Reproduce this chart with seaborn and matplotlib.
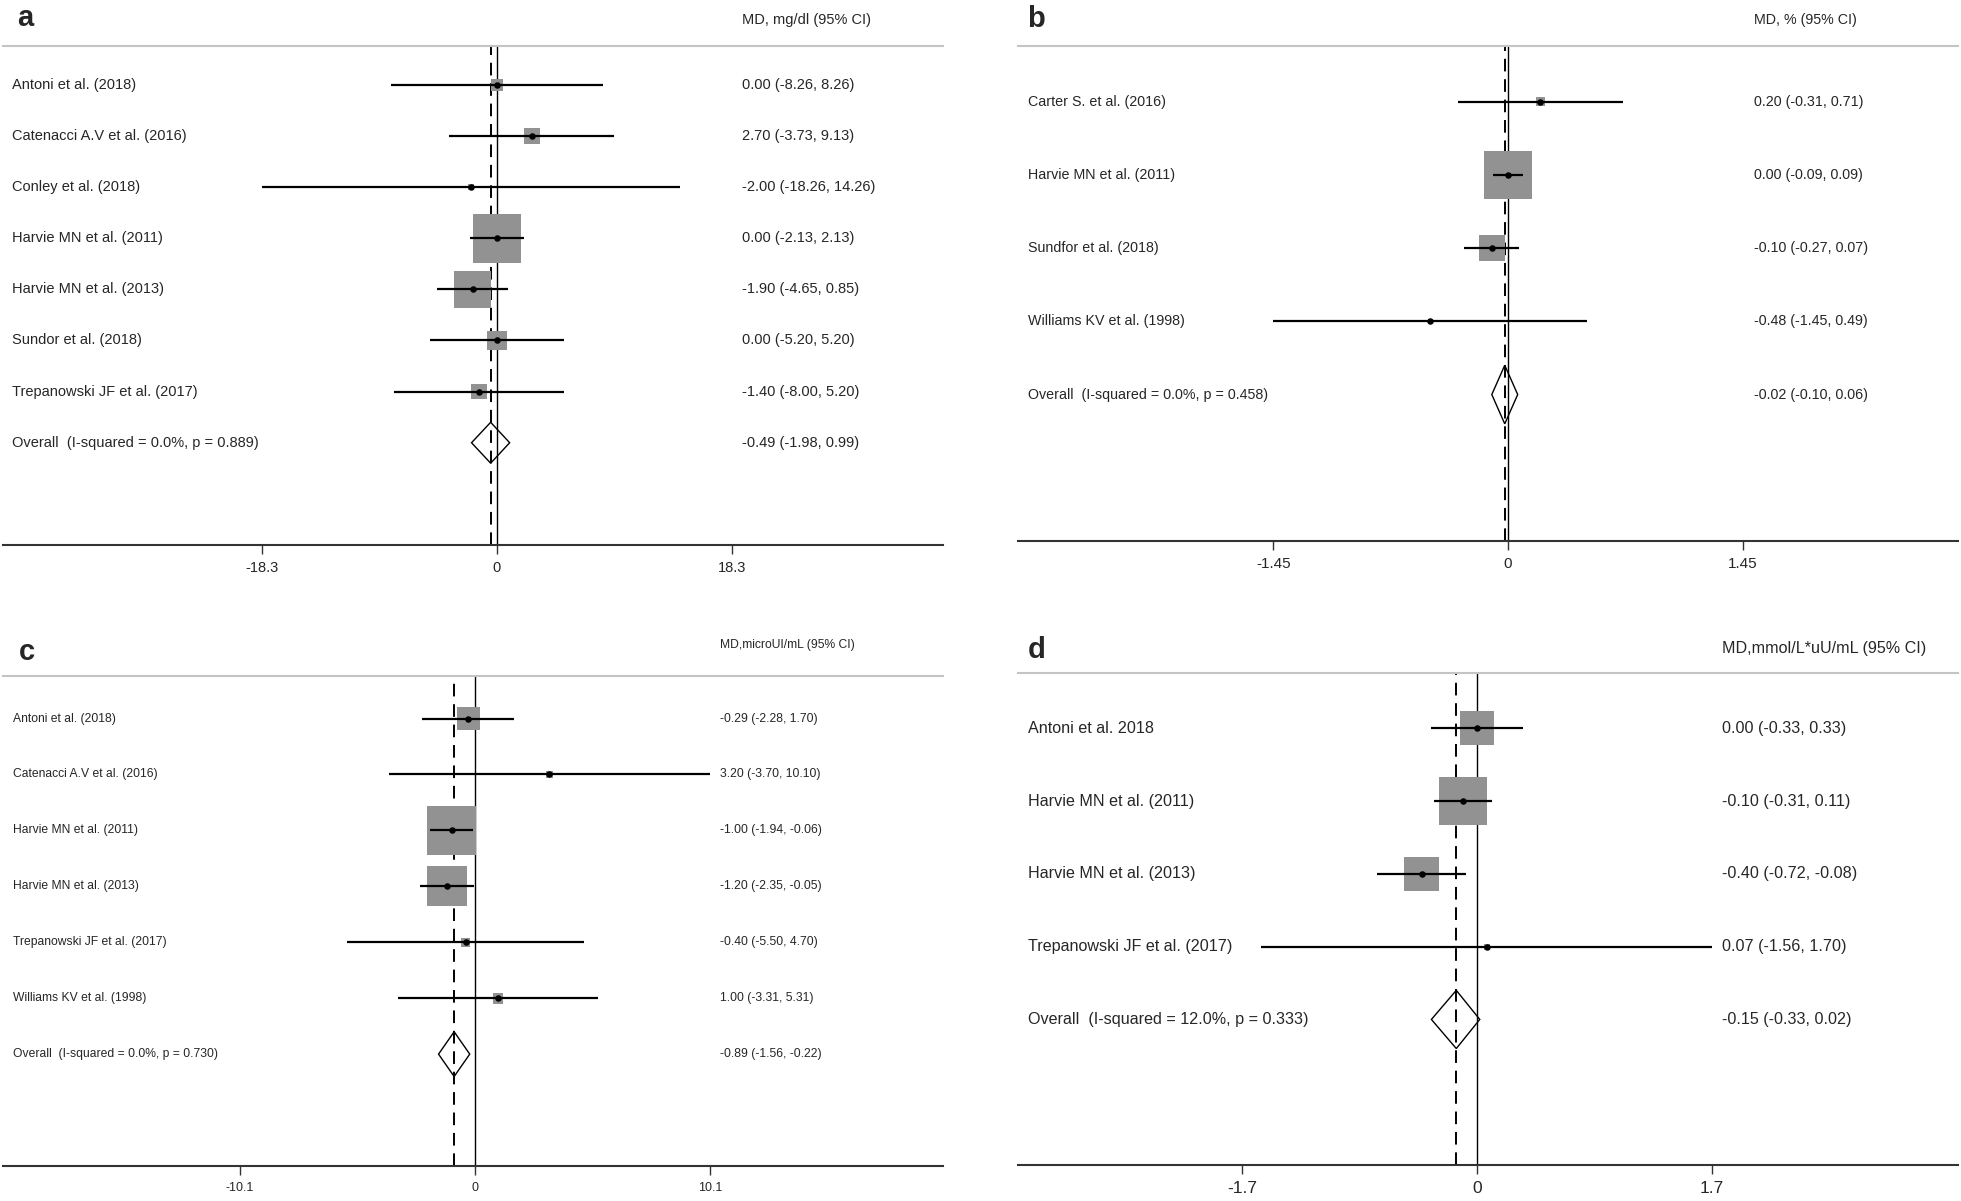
import matplotlib
matplotlib.use("Agg")
import matplotlib.pyplot as plt
import matplotlib.transforms as mtransforms
from matplotlib.patches import Polygon
import numpy as np
import seaborn as sns

# ---- a: mg/dl
a_studies = ["Antoni et al. (2018)", "Catenacci A.V et al. (2016)", "Conley et al. (2018)",
             "Harvie MN et al. (2011)", "Harvie MN et al. (2013)", "Sundor et al. (2018)",
             "Trepanowski JF et al. (2017)"]
a_md = [0.00, 2.70, -2.00, 0.00, -1.90, 0.00, -1.40]
a_lo = [-8.26, -3.73, -18.26, -2.13, -4.65, -5.20, -8.00]
a_hi = [8.26, 9.13, 14.26, 2.13, 0.85, 5.20, 5.20]
a_wt = [3.2, 5.3, 0.8, 48.4, 29.1, 8.1, 5.0]
a_overall = [-0.49, -1.98, 0.99]
a_het = "Overall  (I-squared = 0.0%, p = 0.889)"
a_ticks = [-18.3, 0, 18.3]
a_ticklabels = ["-18.3", "0", "18.3"]
a_header = "MD, mg/dl (95% CI)"

# ---- b: %
b_studies = ["Carter S. et al. (2016)", "Harvie MN et al. (2011)", "Sundfor et al. (2018)",
             "Williams KV et al. (1998)"]
b_md = [0.20, 0.00, -0.10, -0.48]
b_lo = [-0.31, -0.09, -0.27, -1.45]
b_hi = [0.71, 0.09, 0.07, 0.49]
b_wt = [2.4, 75.8, 21.2, 0.6]
b_overall = [-0.02, -0.10, 0.06]
b_het = "Overall  (I-squared = 0.0%, p = 0.458)"
b_ticks = [-1.45, 0, 1.45]
b_ticklabels = ["-1.45", "0", "1.45"]
b_header = "MD, % (95% CI)"

# ---- c: microUI/mL
c_studies = ["Antoni et al. (2018)", "Catenacci A.V et al. (2016)", "Harvie MN et al. (2011)",
             "Harvie MN et al. (2013)", "Trepanowski JF et al. (2017)", "Williams KV et al. (1998)"]
c_md = [-0.29, 3.20, -1.00, -1.20, -0.40, 1.00]
c_lo = [-2.28, -3.70, -1.94, -2.35, -5.50, -3.31]
c_hi = [1.70, 10.10, -0.06, -0.05, 4.70, 5.31]
c_wt = [11.2, 0.9, 50.2, 33.5, 1.7, 2.4]
c_overall = [-0.89, -1.56, -0.22]
c_het = "Overall  (I-squared = 0.0%, p = 0.730)"
c_ticks = [-10.1, 0, 10.1]
c_ticklabels = ["-10.1", "0", "10.1"]
c_header = "MD,microUI/mL (95% CI)"

# ---- d: mmol/L*uU/mL
d_studies = ["Antoni et al. 2018", "Harvie MN et al. (2011)", "Harvie MN et al. (2013)",
             "Trepanowski JF et al. (2017)"]
d_md = [0.00, -0.10, -0.40, 0.07]
d_lo = [-0.33, -0.31, -0.72, -1.56]
d_hi = [0.33, 0.11, -0.08, 1.70]
d_wt = [24.6, 49.6, 25.3, 0.7]
d_overall = [-0.15, -0.33, 0.02]
d_het = "Overall  (I-squared = 12.0%, p = 0.333)"
d_ticks = [-1.7, 0, 1.7]
d_ticklabels = ["-1.7", "0", "1.7"]
d_header = "MD,mmol/L*uU/mL (95% CI)"

sns.set_style("ticks")
plt.rcParams['font.family'] = ['Liberation Sans', 'DejaVu Sans']

W, H = 1961, 1201
fig = plt.figure(figsize=(W / 100, H / 100), dpi=100)

BOX_GREY = "#929292"
MAX_BOX = 35.0  # points, side of the heaviest study box


def fmt(m, l, h):
    return "%.2f (%.2f, %.2f)" % (m, l, h)


def forest(box, xlim, studies, md, lo, hi, wt, overall, het, ticks, ticklabels,
           header, letter, lab_x, eff_x, head_xy, let_xy, fs, tfs):
    l, t, r, b = box
    ax = fig.add_axes([l / W, 1 - b / H, (r - l) / W, (b - t) / H])
    n = len(studies)
    rows = np.arange(n)
    ax.set_xlim(*xlim)
    ax.set_ylim(n + 2, -0.76)

    # reference lines
    ax.axvline(0, color="black", lw=1.0, zorder=1)
    ax.axvline(overall[0], color="black", lw=1.4, ls=(0, (6.5, 4)), zorder=1)

    # weight boxes (area ~ weight)
    wt = np.asarray(wt)
    sizes = (MAX_BOX ** 2) * wt / wt.max()
    ax.scatter(md, rows, s=sizes, marker="s", color=BOX_GREY, linewidths=0, zorder=2)
    ax.hlines(rows, lo, hi, color="black", lw=1.6, zorder=3)
    sns.scatterplot(x=md, y=rows, color="black", s=22, linewidth=0, ax=ax, zorder=4)

    # pooled diamond
    m, ol, oh = overall
    dia = Polygon([[ol, n], [m, n - 0.4], [oh, n], [m, n + 0.4]], closed=True,
                  fill=False, edgecolor="black", lw=1.0, zorder=5)
    ax.add_patch(dia)

    # text columns
    tr = mtransforms.blended_transform_factory(ax.transAxes, ax.transData)
    for i, s in enumerate(studies):
        ax.text(lab_x, i, s, transform=tr, va="center", ha="left", fontsize=fs)
        ax.text(eff_x, i, fmt(md[i], lo[i], hi[i]), transform=tr, va="center",
                ha="left", fontsize=fs)
    ax.text(lab_x, n, het, transform=tr, va="center", ha="left", fontsize=fs)
    ax.text(eff_x, n, fmt(m, ol, oh), transform=tr, va="center", ha="left", fontsize=fs)

    fig.text(head_xy[0] / W, 1 - head_xy[1] / H, header, va="center", ha="left", fontsize=fs)
    fig.text(let_xy[0] / W, 1 - let_xy[1] / H, letter, va="baseline", ha="left",
             fontsize=21, fontweight="bold")

    # axes styling
    for side in ["left", "right"]:
        ax.spines[side].set_visible(False)
    ax.spines["top"].set_color("#c4c4c4")
    ax.spines["top"].set_linewidth(1.5)
    ax.spines["bottom"].set_color("#333333")
    ax.spines["bottom"].set_linewidth(1.5)
    ax.set_yticks([])
    ax.set_xticks(ticks)
    ax.set_xticklabels(ticklabels)
    ax.tick_params(axis="x", direction="out", length=6.5, width=1.0, color="#333333",
                   pad=5, labelsize=tfs, bottom=True, top=False)
    ax.set_facecolor("white")
    return ax


forest((3, 46, 943, 545), (-38.47, 34.74), a_studies, a_md, a_lo, a_hi, a_wt, a_overall,
       a_het, a_ticks, a_ticklabels, a_header, "a", 0.0101, 0.786, (742, 20), (17, 26), 10.5, 10.5)
forest((1018, 46, 1958, 541), (-3.028, 2.781), b_studies, b_md, b_lo, b_hi, b_wt, b_overall,
       b_het, b_ticks, b_ticklabels, b_header, "b", 0.0103, 0.783, (1754, 20), (1027, 27), 10.25, 11)
forest((3, 676, 943, 1166), (-20.27, 20.11), c_studies, c_md, c_lo, c_hi, c_wt, c_overall,
       c_het, c_ticks, c_ticklabels, c_header, "c", 0.0103, 0.763, (720, 645), (19, 660), 8.7, 9)
forest((1018, 673, 1958, 1165), (-3.321, 3.48), d_studies, d_md, d_lo, d_hi, d_wt, d_overall,
       d_het, d_ticks, d_ticklabels, d_header, "d", 0.0103, 0.749, (1722, 648), (1028, 658), 11.6, 12.5)

fig.savefig("out.png", dpi=100, facecolor="white")
